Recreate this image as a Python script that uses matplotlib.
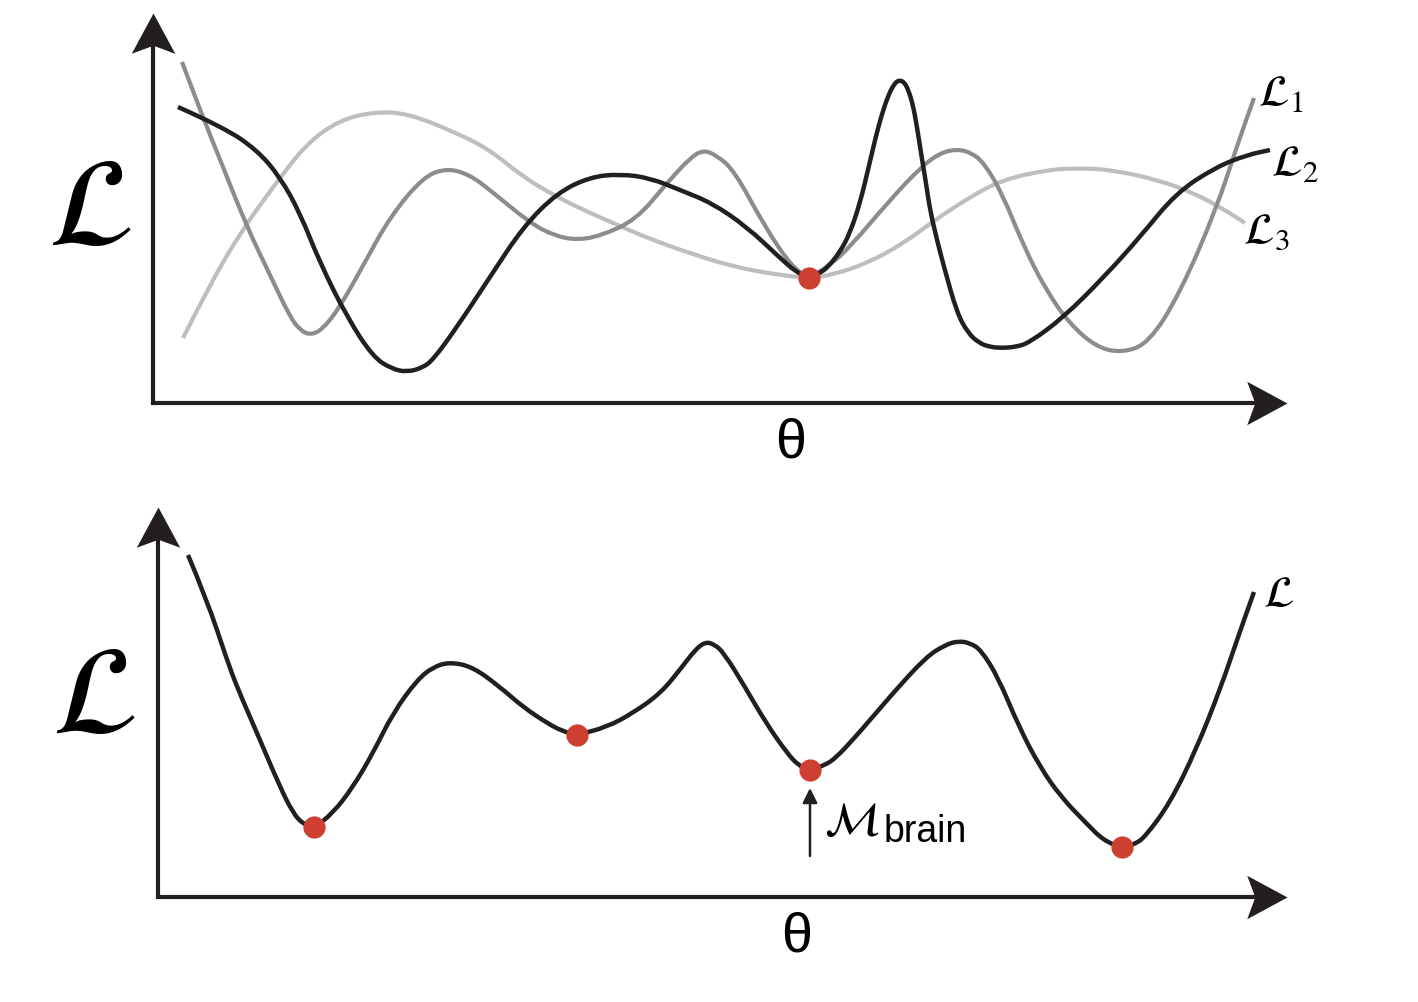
"""
Schematic loss landscapes: three individual losses L1, L2, L3 sharing one
minimum (top) and the combined loss L with several minima (bottom).
"""

import matplotlib
matplotlib.use("Agg")
import matplotlib.pyplot as plt
from matplotlib.path import Path
from matplotlib.patches import PathPatch

plt.rcParams['mathtext.fontset'] = 'stix'

# ---- data in pixel coordinates (x right, y down) ----
# top panel
l1_x = [182, 200, 223, 247, 270, 290, 300, 310, 322, 340, 365, 390, 423, 447, 470, 490,
        530, 555, 577, 600, 636, 667, 690, 703, 716, 734, 765, 792, 809, 830, 850, 890,
        921, 940, 957, 972, 984, 1002, 1024, 1046, 1069, 1096, 1122, 1149, 1180, 1216,
        1238, 1254]
l1_y = [62, 110, 167, 227, 275, 317, 330, 335, 330, 307, 262, 217, 177, 168, 175, 190,
        223, 236, 240, 236, 220, 183, 158, 150, 155, 170, 227, 267, 278, 265, 247, 200,
        167, 153, 149, 153, 163, 193, 247, 290, 323, 347, 353, 343, 293, 210, 143, 98]

l2_x = [178, 223, 257, 280, 300, 320, 347, 373, 392, 407, 422, 433, 457, 490, 523, 557,
        590, 620, 650, 680, 712, 747, 779, 796, 809, 820, 828, 840, 850, 860, 868, 875,
        881, 888, 894, 899, 904, 908, 913, 917, 921, 926, 930, 937, 944, 957, 968, 979,
        990, 1002, 1015, 1029, 1064, 1104, 1140, 1176, 1216, 1247, 1270]
l2_y = [107, 127, 150, 177, 213, 263, 317, 357, 369, 372, 368, 360, 327, 277, 227, 193,
        177, 174, 178, 190, 203, 227, 257, 272, 278, 273, 267, 252, 233, 203, 170, 140,
        117, 96, 84, 80, 82, 89, 105, 127, 153, 183, 210, 240, 267, 313, 333, 343,
        347, 348, 347, 343, 317, 277, 237, 193, 167, 155, 150]

l3_x = [183, 207, 240, 273, 307, 340, 373, 407, 457, 490, 523, 557, 590, 620, 645, 689,
        734, 779, 809, 832, 868, 904, 935, 970, 1002, 1046, 1078, 1113, 1158, 1194, 1225,
        1245]
l3_y = [338, 290, 233, 187, 143, 120, 112, 113, 133, 150, 177, 197, 213, 226, 237, 253,
        267, 275, 278, 275, 263, 243, 220, 197, 180, 170, 168, 170, 180, 193, 210, 223]

top_min_x = [809]
top_min_y = [278]

# bottom panel
loss_x = [188, 207, 227, 237, 257, 280, 293, 303, 314, 333, 353, 373, 393, 417, 433,
          450, 473, 500, 523, 547, 562, 577, 607, 633, 661, 682, 695, 705, 714, 724,
          745, 766, 787, 798, 810, 822, 834, 859, 893, 926, 945, 958, 970, 981, 998,
          1019, 1040, 1061, 1086, 1103, 1122, 1135, 1145, 1170, 1196, 1221, 1238, 1254]
loss_y = [555, 600, 660, 687, 733, 787, 813, 824, 828, 813, 787, 753, 713, 680, 667,
          662, 667, 687, 707, 723, 731, 735, 727, 713, 693, 667, 650, 642, 644, 653,
          687, 723, 753, 765, 771, 766, 760, 733, 693, 657, 645, 641, 643, 650, 677,
          727, 767, 797, 823, 840, 848, 844, 837, 803, 750, 687, 637, 592]

min_x = [314, 577, 810, 1122]
min_y = [827, 735, 770, 847]

curve_labels = [r'$\mathcal{L}_1$', r'$\mathcal{L}_2$', r'$\mathcal{L}_3$']

# ---- styles ----
BLACK = '#231f20'
MID_GREY = '#8c8c8e'
LIGHT_GREY = '#bdbec0'
RED = '#cd3f31'

# stealth arrow heads, tip at origin
up_head = Path([(0, 0), (0.54, -1.0), (0, -0.8), (-0.54, -1.0), (0, 0)],
               [Path.MOVETO, Path.LINETO, Path.LINETO, Path.LINETO, Path.CLOSEPOLY])
right_head = Path([(0, 0), (-1.0, 0.54), (-0.8, 0), (-1.0, -0.54), (0, 0)],
                  [Path.MOVETO, Path.LINETO, Path.LINETO, Path.LINETO, Path.CLOSEPOLY])

fig = plt.figure(figsize=(14.18, 10.02), dpi=100)
ax = fig.add_axes([0, 0, 1, 1])
ax.set_xlim(0, 1418)
ax.set_ylim(1002, 0)
ax.axis('off')


def smooth_curve(xs, ys, **kw):
    # quadratic bezier pieces: read points act as control points
    pts = list(zip(xs, ys))
    verts = [pts[0]]
    codes = [Path.MOVETO]
    for i in range(1, len(pts) - 1):
        mid = ((pts[i][0] + pts[i + 1][0]) / 2, (pts[i][1] + pts[i + 1][1]) / 2)
        verts += [pts[i], mid]
        codes += [Path.CURVE3, Path.CURVE3]
    verts.append(pts[-1])
    codes.append(Path.LINETO)
    ax.add_patch(PathPatch(Path(verts, codes), fill=False, capstyle='butt',
                           joinstyle='round', **kw))


def draw_axes(x0, y0, ytip, xtip):
    ax.plot([x0, x0, xtip - 30], [ytip + 30, y0, y0], color=BLACK, lw=3.0,
            solid_joinstyle='miter', solid_capstyle='butt')
    ax.plot([x0], [ytip], marker=up_head, ms=58, color=BLACK, mew=0)
    ax.plot([xtip], [y0], marker=right_head, ms=58, color=BLACK, mew=0)


# top panel
draw_axes(153, 403, 13, 1287)
smooth_curve(l3_x, l3_y, edgecolor=LIGHT_GREY, lw=3.0, zorder=2)
smooth_curve(l1_x, l1_y, edgecolor=MID_GREY, lw=3.0, zorder=3)
smooth_curve(l2_x, l2_y, edgecolor=BLACK, lw=3.2, zorder=4)
ax.plot(top_min_x, top_min_y, 'o', color=RED, ms=16, mew=0, zorder=5)

ax.text(1258, 106, curve_labels[0], fontsize=32, va='baseline', ha='left')
ax.text(1271, 176, curve_labels[1], fontsize=32, va='baseline', ha='left')
ax.text(1243, 244, curve_labels[2], fontsize=32, va='baseline', ha='left')
ax.text(90, 210, r'$\mathcal{L}$', fontsize=90, ha='center', va='center')
ax.text(791, 443, 'θ', fontsize=40, family='Liberation Sans', ha='center', va='center')

# bottom panel
draw_axes(158, 897, 507, 1287)
smooth_curve(loss_x, loss_y, edgecolor=BLACK, lw=3.2, zorder=4)
ax.plot(min_x, min_y, 'o', color=RED, ms=16, mew=0, zorder=5)

ax.text(1263, 607, r'$\mathcal{L}$', fontsize=32, va='baseline', ha='left')
ax.text(94, 698, r'$\mathcal{L}$', fontsize=90, ha='center', va='center')
ax.text(797, 937, 'θ', fontsize=40, family='Liberation Sans', ha='center', va='center')

ax.annotate('', xy=(810, 788), xytext=(810, 856),
            arrowprops=dict(arrowstyle='-|>', color=BLACK, lw=1.8, mutation_scale=22,
                            shrinkA=0, shrinkB=0))
ax.text(824, 835, r'$\mathcal{M}$', fontsize=34, va='baseline', ha='left')
ax.text(884, 842, 'brain', fontsize=27, family='Liberation Sans',
        va='baseline', ha='left')

fig.savefig('out.png', dpi=100, facecolor='white')
